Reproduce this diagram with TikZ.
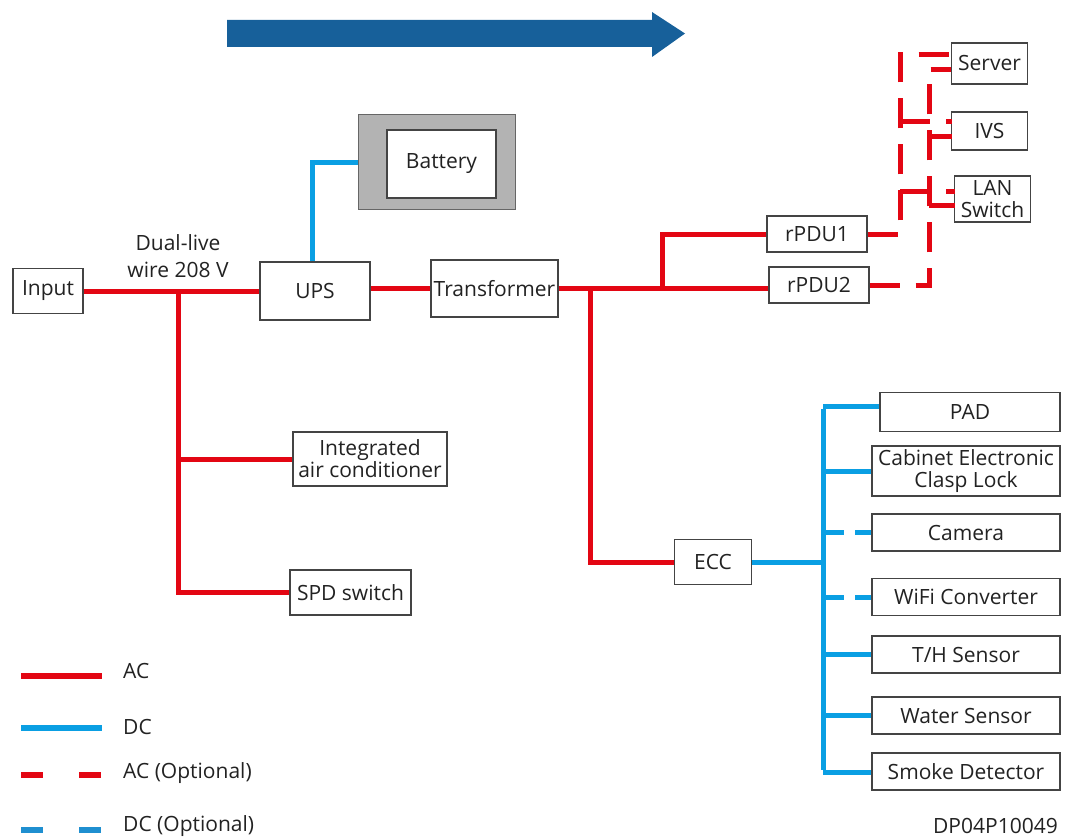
\documentclass[tikz,border=0pt]{standalone}
\usepackage{fontspec}
\setmainfont{Open Sans}
\definecolor{acred}{HTML}{E30613}
\definecolor{dcblue}{HTML}{0A9FE3}
\definecolor{dcdash}{HTML}{1F8FD0}
\definecolor{arrowblue}{HTML}{17609A}
\definecolor{boxc}{HTML}{444444}
\definecolor{txt}{HTML}{222222}
\definecolor{batgray}{HTML}{B3B3B3}
\begin{document}
\begin{tikzpicture}[x=1pt,y=-1pt,
  every node/.style={text=txt, font=\fontsize{21}{22}\selectfont},
  box/.style={draw=boxc, line width=1.4pt, fill=white, inner sep=0pt, align=center},
  ac/.style={draw=acred, line width=5pt},
  dc/.style={draw=dcblue, line width=5pt},
  acopt/.style={ac, dash pattern=on 30pt off 16pt},
  dcopt/.style={draw=dcblue, line width=5pt, dash pattern=on 21pt off 11pt},
  lbl/.style={inner sep=0pt, anchor=west}]
\useasboundingbox (0,0) rectangle (1068,840);

% flow arrow
\fill[arrowblue] (227,20) -- (652,20) -- (652,12) -- (685,33.5) -- (652,57) -- (652,47) -- (227,47) -- cycle;

% nodes
\node[box, minimum width=70, minimum height=45] (input) at (48,291) {Input};
\node[align=center, font=\fontsize{21}{27}\selectfont, inner sep=0pt] (dual) at (178,256) {Dual-live\\wire 208 V};
\node[box, minimum width=110, minimum height=58] (ups) at (315,291) {UPS};
\node[box, minimum width=127, minimum height=57] (trans) at (494.5,288.5) {Transformer};
\node[draw=gray!80!black, line width=1pt, fill=batgray, minimum width=157, minimum height=94] (batout) at (436.5,162) {};
\node[box, minimum width=109, minimum height=68] (battery) at (441.5,164) {Battery};
\node[box, minimum width=100, minimum height=36] (rpdu1) at (817,234) {rPDU1};
\node[box, minimum width=100, minimum height=36] (rpdu2) at (819,285) {rPDU2};
\node[box, minimum width=76, minimum height=41] (server) at (989.5,63.5) {Server};
\node[box, minimum width=76, minimum height=38] (ivs) at (989.5,131) {IVS};
\node[box, minimum width=76, minimum height=46] (lan) at (992.5,199) {LAN\\Switch};
\node[box, minimum width=154, minimum height=54] (aircon) at (370,459) {Integrated\\air conditioner};
\node[box, minimum width=121, minimum height=45] (spd) at (350.5,592.5) {SPD switch};
\node[box, minimum width=77, minimum height=45] (ecc) at (713,562) {ECC};
\node[box, minimum width=180, minimum height=39] (pad) at (970,412) {PAD};
\node[box, minimum width=188, minimum height=50] (clasp) at (966,471) {Cabinet Electronic\\Clasp Lock};
\node[box, minimum width=188, minimum height=37] (camera) at (966,532.5) {Camera};
\node[box, minimum width=188, minimum height=37] (wifi) at (966,597) {WiFi Converter};
\node[box, minimum width=188, minimum height=37] (th) at (966,654.5) {T/H Sensor};
\node[box, minimum width=188, minimum height=37] (water) at (966,715.5) {Water Sensor};
\node[box, minimum width=188, minimum height=37] (smoke) at (966,771.5) {Smoke Detector};

% junction coordinates
\coordinate (jin) at (178,291);
\coordinate (jt1) at (662,288);
\coordinate (jt2) at (590,288);
\coordinate (bustop) at (823,406);
\coordinate (busbot) at (823,772);
\coordinate (ax) at (900,55);
\coordinate (bx) at (929,70);

% AC lines
\draw[ac] (input.east) -- (ups.west);
\draw[ac] (trans.west -| ups.east) -- (trans.west);
\draw[ac] (trans.east |- jt1) -- (rpdu2.west |- jt1);
\draw[ac] (jt1) |- (rpdu1.west);
\draw[ac] (jt2) |- (ecc.west);
\draw[ac] (jin) |- (spd.west);
\draw[ac] (aircon.west -| jin) -- (aircon.west);

% DC lines
\draw[dc] ([xshift=-3pt]ups.north) |- (batout.west);
\draw[dc] (ecc.east) -- (ecc.east -| bustop);
\draw[dc, line cap=butt] ([yshift=-2.5pt]bustop) -- ([yshift=2.5pt]busbot);
\draw[dc] (bustop) -- (bustop -| pad.west);
\draw[dc] (clasp.west -| bustop) -- (clasp.west);
\draw[dcopt] (camera.west -| bustop) -- (camera.west);
\draw[dcopt] (wifi.west -| bustop) -- (wifi.west);
\draw[dc] (th.west -| bustop) -- (th.west);
\draw[dc] (water.west -| bustop) -- (water.west);
\draw[dc] (busbot) -- (busbot -| smoke.west);

% optional AC to IT equipment
\draw[acopt] (rpdu1.east) -| (ax) -- (ax -| server.west);
\draw[acopt] (rpdu2.east) -| (bx) -- (bx -| server.west);
\draw[acopt] (ax |- 0,122) -- (952,122);
\draw[acopt] (ax |- 0,191) -- (955,191);
\draw[acopt] (bx |- 0,137) -- (952,137);
\draw[acopt] (bx |- 0,205) -- (955,205);

% legend
\coordinate (l1a) at (21,676); \coordinate (l1b) at (102,676);
\coordinate (l2a) at (21,728); \coordinate (l2b) at (102,728);
\coordinate (l3a) at (21,775); \coordinate (l3b) at (102,775);
\coordinate (l4a) at (21,830); \coordinate (l4b) at (102,830);
\draw[ac, line width=6pt] (l1a) -- (l1b);
\draw[dc, line width=6pt] (l2a) -- (l2b);
\draw[ac, line width=6pt, dash pattern=on 22pt off 36pt] (l3a) -- (l3b);
\draw[draw=dcdash, line width=6pt, dash pattern=on 22pt off 36pt] (l4a) -- (l4b);
\node[lbl] (lac) at (123,671) {AC};
\node[lbl] (ldc) at (123,727) {DC};
\node[lbl] (laco) at (123,773) {AC (Optional)};
\node[lbl] (ldco) at (123,826) {DC (Optional)};
\node[inner sep=0pt, anchor=east] (code) at (1058,826) {DP04P10049};
\end{tikzpicture}
\end{document}
